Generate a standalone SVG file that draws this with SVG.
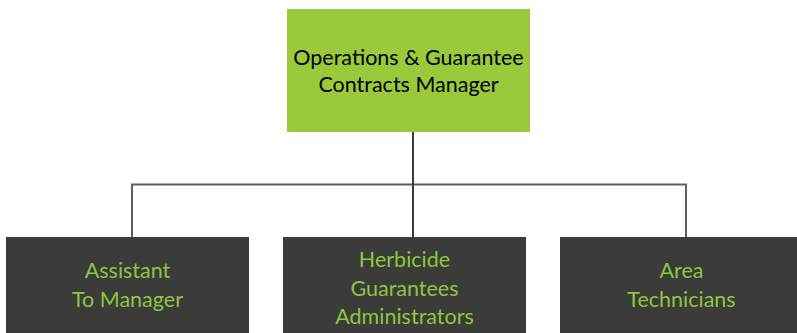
<svg xmlns="http://www.w3.org/2000/svg" width="797" height="333" viewBox="0 0 797 333">
<style>
.top{fill:#9ACA3C}
.sub{fill:#3B3B39}
.tt{font-family:Lato,"Liberation Sans",sans-serif;font-size:21.5px;fill:#000;text-anchor:middle}
.st{font-family:Lato,"Liberation Sans",sans-serif;font-size:21.5px;fill:#8DC63F;text-anchor:middle}
.ln{stroke:#5F5F5F;stroke-width:2;fill:none}
.ld{stroke:#3B3B39;stroke-width:2;fill:none}
</style>
<rect width="797" height="333" fill="#fff"/>
<g id="connectors">
<path class="ln" d="M132,237 V184.5 H686 V237"/>
<path class="ld" d="M413,132 V237"/>
</g>
<g id="node-manager">
<rect class="top" x="287" y="9" width="243" height="123"/>
<text class="tt" x="408.5" y="65">Operations &amp; Guarantee</text>
<text class="tt" x="408.5" y="92">Contracts Manager</text>
</g>
<g id="node-assistant">
<rect class="sub" x="6" y="237" width="243" height="96"/>
<text class="st" x="127.5" y="278">Assistant</text>
<text class="st" x="127.5" y="307">To Manager</text>
</g>
<g id="node-herbicide">
<rect class="sub" x="283" y="237" width="243" height="96"/>
<text class="st" x="404.5" y="267">Herbicide</text>
<text class="st" x="404.5" y="296">Guarantees</text>
<text class="st" x="404.5" y="324">Administrators</text>
</g>
<g id="node-area">
<rect class="sub" x="560" y="237" width="243" height="96"/>
<text class="st" x="681.5" y="278">Area</text>
<text class="st" x="681.5" y="307">Technicians</text>
</g>
</svg>
